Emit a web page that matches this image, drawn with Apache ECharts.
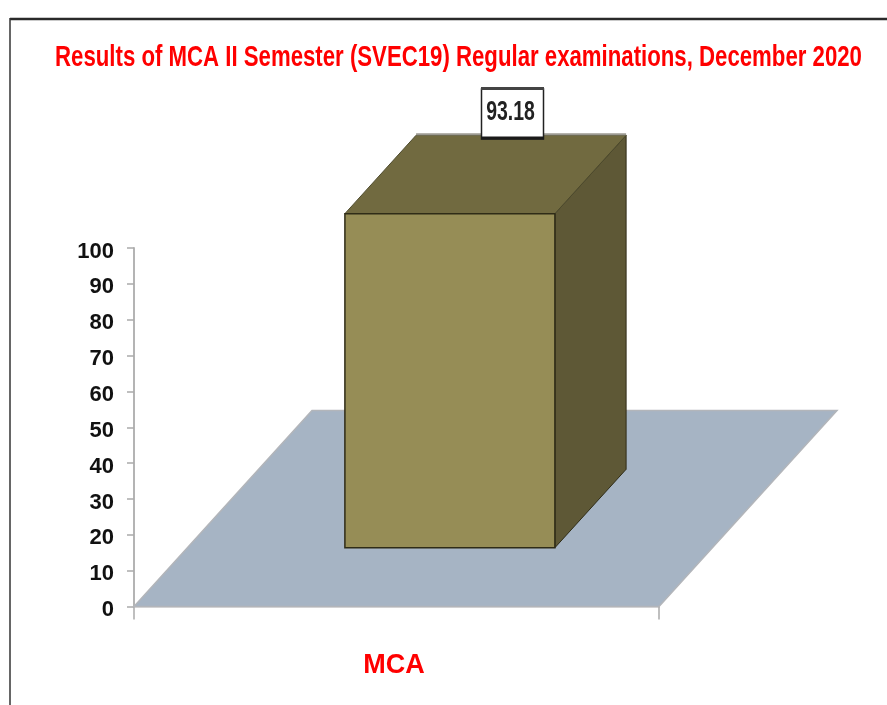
<!DOCTYPE html>
<html>
<head>
<meta charset="utf-8">
<style>html,body{margin:0;padding:0;background:#fff}#c{width:887px;height:705px;filter:blur(0.5px)}</style>
<script src="https://cdn.jsdelivr.net/npm/echarts@6/dist/echarts.min.js"></script>
</head>
<body>
<div id="c"></div>
<script>
const titleText = 'Results of MCA II Semester (SVEC19) Regular examinations, December 2020';
const categories = ['MCA'];
const values = [93.18];
const FONT = '"Liberation Sans",Arial,sans-serif';

const chart = echarts.init(document.getElementById('c'), null, {renderer: 'canvas'});

function renderBar(params, api) {
  const cs = params.coordSys;
  const floorDX = 178, floorDY = -196;     // oblique projection of the floor depth
  const d0 = 0.3, d1 = 0.7;                // bar's depth span on the floor
  const cat = api.value(0), val = api.value(1);
  const base = api.coord([cat, 0]);
  const top = api.coord([cat, val]);
  const bw = api.size([1, 0])[0] * 0.4;
  const x0 = cs.x, x1 = cs.x + cs.width, yb = base[1];
  const off = d => [floorDX * d, floorDY * d];
  const [fx, fy] = off(d0), [bx, by] = off(d1);
  const L = top[0] - bw / 2 + fx, R = top[0] + bw / 2 + fx;
  const T = top[1] + fy, B = yb + fy;
  const ddx = bx - fx, ddy = by - fy;
  const edge = '#2f2c17';
  return {
    type: 'group',
    children: [
      {type: 'polygon', shape: {points: [[x0, yb], [x1, yb], [x1 + floorDX, yb + floorDY], [x0 + floorDX, yb + floorDY]]},
       style: {fill: '#a6b4c4', stroke: '#b2b5ba', lineWidth: 1.5}},
      {type: 'polygon', shape: {points: [[R, T], [R + ddx, T + ddy], [R + ddx, B + ddy], [R, B]]},
       style: {fill: '#5e5836', stroke: edge, lineWidth: 1}},
      {type: 'polygon', shape: {points: [[L, T], [L + ddx, T + ddy], [R + ddx, T + ddy], [R, T]]},
       style: {fill: '#716a40', stroke: '#4d4a2c', lineWidth: 1}},
      {type: 'line', shape: {x1: L + ddx, y1: T + ddy - 1, x2: R + ddx, y2: T + ddy - 1},
       style: {stroke: '#9c9a92', lineWidth: 2}},
      {type: 'rect', shape: {x: L, y: T, width: R - L, height: B - T},
       style: {fill: '#968d56', stroke: edge, lineWidth: 1.5}},
      {type: 'rect', shape: {x: 481.5, y: 89, width: 62, height: 50},
       style: {fill: '#fff', stroke: '#222', lineWidth: 1.5}},
      {type: 'rect', shape: {x: 481, y: 87, width: 63, height: 3}, style: {fill: '#444'}},
      {type: 'rect', shape: {x: 481, y: 136.5, width: 63, height: 3}, style: {fill: '#1a1a1a'}},
      {type: 'text', x: 510.5, y: 113, scaleX: 0.72, scaleY: 1,
       style: {x: 0, y: 0, text: String(val), align: 'center', verticalAlign: 'middle',
        fill: '#222', font: 'bold 27px ' + FONT}}
    ]
  };
}

chart.setOption({
  animation: false,
  backgroundColor: '#fff',
  grid: {left: 134, right: 228, top: 248, bottom: 98.5},
  xAxis: {
    type: 'category', data: categories, boundaryGap: true,
    axisLine: {lineStyle: {color: '#dcdcdc', width: 2}},
    axisTick: {show: true, length: 13, alignWithLabel: false, lineStyle: {color: '#aaaaaa', width: 1.5}},
    axisLabel: {margin: 46, formatter: '{a|{value}}',
      rich: {a: {color: '#ff0000', fontFamily: FONT, fontWeight: 'bold', fontSize: 27, padding: [0, 5, 0, 0]}}}
  },
  yAxis: {
    type: 'value', min: 0, max: 100, interval: 10,
    splitLine: {show: false},
    axisLine: {show: true, lineStyle: {color: '#b4b4b4', width: 2}},
    axisTick: {show: true, length: 7, lineStyle: {color: '#aaaaaa', width: 1.5}},
    axisLabel: {margin: 20, formatter: '{a|{value}}',
      rich: {a: {color: '#111', fontFamily: FONT, fontWeight: 'bold', fontSize: 22, padding: [7, 0, 0, 0]}}}
  },
  graphic: [
    {type: 'line', silent: true, shape: {x1: 10, y1: 19, x2: 887, y2: 19}, style: {stroke: '#2a2a2a', lineWidth: 2.5}},
    {type: 'line', silent: true, shape: {x1: 10, y1: 18, x2: 10, y2: 705}, style: {stroke: '#333', lineWidth: 1.5}},
    {type: 'text', silent: true, x: 458.5, y: 58, scaleX: 0.74, scaleY: 1,
     style: {x: 0, y: 0, text: titleText, align: 'center', verticalAlign: 'middle', fill: '#ff0000', font: 'bold 30px ' + FONT}}
  ],
  series: [{
    type: 'custom', coordinateSystem: 'cartesian2d', clip: false,
    renderItem: renderBar,
    encode: {x: 0, y: 1},
    data: values.map((v, i) => [i, v])
  }]
});
</script>
</body>
</html>
